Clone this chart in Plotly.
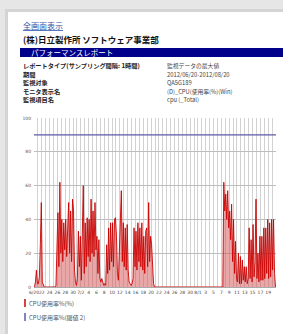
import pandas as pd
import plotly.graph_objects as go

# ---- data (6-hour maxima) ----
june_vals = [0, 3, 10, 2,   2, 6, 25, 50,   3, 1, 0, 0,   0, 0, 0, 0,   0, 0, 0, 0,
             0, 0, 1, 30,   44, 12, 62, 20,   40, 15, 38, 22,   40, 18, 30, 50,
             20, 45, 15, 52,   45, 10, 3, 1]
july_vals = [5, 33, 12, 30,   4, 35, 60, 8,   38, 12, 41, 18,   40, 15, 52, 20,
             45, 18, 50, 22,   30, 8, 28, 5,   3, 5, 2, 1,   2, 1, 25, 8,
             35, 10, 38, 15,   38, 12, 40, 41,   30, 8, 4, 20,   35, 57, 15, 38,
             12, 35, 10, 37,   10, 3, 2, 1,   2, 5, 35, 12,   33, 10, 38, 15,
             35, 12, 38, 10,   30, 8, 33, 35,   12, 50, 15, 30,   25, 10, 2, 0,
             0, 0, 0, 0,   0, 0, 0, 0,   0, 0, 0, 0,   0, 0, 0, 0,
             0, 0, 0, 0,   0, 0, 0, 0,   0, 0, 0, 0,   0, 0, 0, 0,
             0, 0, 0, 0,   0, 0, 0, 0,   0, 0, 0, 0]
aug_vals = [0, 0, 0, 0,   0, 0, 0, 0,   0, 0, 0, 0,   0, 0, 0, 0,   0, 0, 0, 0,   0, 0, 0, 0,
            0, 0, 62, 45,   55, 40, 57, 35,   45, 28, 49, 15,   40, 8, 27, 5,
            3, 20, 2, 18,   2, 16, 4, 12,   3, 12, 2, 5,   35, 5, 28, 3,
            37, 6, 15, 52,   5, 20, 3, 30,   4, 30, 4, 35,   5, 35, 8, 40,
            5, 38, 6, 40,   10, 40, 8, 0]
threshold_vals = [90, 90]
threshold_dates = ["2012-06-20", "2012-08-21"]

tick_labels = ["6/20", "22", "24", "26", "28", "30", "7/2", "4", "6", "8", "10", "12",
               "14", "16", "18", "20", "22", "24", "26", "28", "30", "8/1", "3", "5",
               "7", "9", "11", "13", "15", "17", "19"]
y_ticks = [0, 20, 40, 60, 80, 100]

header_labels = ["レポートタイプ(サンプリング間隔: 1時間)", "期間", "監視対象", "モニタ表示名", "監視項目名"]
header_values = ["監視データの最大値", "2012/06/20-2012/08/20", "QA5G189", "(D)_CPU(使用率(%)(Win)", "cpu (_Total)"]
legend_names = ["CPU使用率%(%)", "CPU使用率%(閾値 2)"]

# ---- build ----
cpu_vals = june_vals + july_vals + aug_vals
cpu_times = pd.date_range("2012-06-20 03:00", periods=len(cpu_vals), freq="6h")
tick_dates = pd.date_range("2012-06-20", periods=len(tick_labels), freq="2D")

W, H = 283, 334
L, R, T, B = 34, 276, 118, 287
PW, PH = R - L, B - T

def px(x):
    return (x - L) / PW

def py(y):
    return (B - y) / PH

FONT = "Noto Sans CJK JP"
RED = "#cc0000"
BLUE = "#5a5aa8"

fig = go.Figure()
fig.add_trace(go.Scatter(
    x=cpu_times, y=cpu_vals, mode="lines", name=legend_names[0],
    line=dict(color=RED, width=0.9), fill="tozeroy",
    fillcolor="rgba(214,80,80,0.5)", showlegend=False))
fig.add_trace(go.Scatter(
    x=pd.to_datetime(threshold_dates), y=threshold_vals, mode="lines",
    name=legend_names[1], line=dict(color=BLUE, width=1.2), showlegend=False))

shapes = []
# page shadow
shapes.append(dict(type="rect", xref="paper", yref="paper", x0=px(0), x1=px(W), y0=py(0), y1=py(12),
                   fillcolor="#e6e6e6", line=dict(width=0), layer="below"))
shapes.append(dict(type="rect", xref="paper", yref="paper", x0=px(0), x1=px(8), y0=py(0), y1=py(H),
                   fillcolor="#e6e6e6", line=dict(width=0), layer="below"))
shapes.append(dict(type="rect", xref="paper", yref="paper", x0=px(5), x1=px(8), y0=py(10), y1=py(H),
                   fillcolor="#d4d4d4", line=dict(width=0), layer="below"))
shapes.append(dict(type="rect", xref="paper", yref="paper", x0=px(5), x1=px(W), y0=py(9), y1=py(12),
                   fillcolor="#d4d4d4", line=dict(width=0), layer="below"))
# banner
shapes.append(dict(type="rect", xref="paper", yref="paper", x0=px(20), x1=px(W + 2), y0=py(57), y1=py(48),
                   fillcolor="#00008b", line=dict(width=0), layer="below"))
# legend swatches
shapes.append(dict(type="line", xref="paper", yref="paper", x0=px(25), x1=px(25), y0=py(299), y1=py(307),
                   line=dict(color=RED, width=1.5)))
shapes.append(dict(type="line", xref="paper", yref="paper", x0=px(25), x1=px(25), y0=py(313), y1=py(321),
                   line=dict(color=BLUE, width=1.5)))

ann = []
def text(x, y, s, size, color="#000", bold=False, anchor="left"):
    if bold:
        s = "<b>" + s + "</b>"
    ann.append(dict(x=px(x), y=py(y), xref="paper", yref="paper", text=s, showarrow=False,
                    xanchor=anchor, yanchor="middle", font=dict(family=FONT, size=size, color=color)))

text(21, 25, "<u>全画面表示</u>", 8, "#3355aa")
text(21, 39, "(株)日立製作所 ソフトウェア事業部", 8.5, "#111", bold=True)
text(29, 52.5, "パフォーマンスレポート", 7.5, "#ffffff")
rows_y = [65.5, 74.1, 82.7, 91.3, 99.9]
for yy, lab, val in zip(rows_y, header_labels, header_values):
    text(21, yy, lab, 6.2, "#222", bold=True)
    text(165, yy, val, 5.8, "#444")
text(27, 303, legend_names[0], 6, "#555")
text(27, 317, legend_names[1], 6, "#555")

fig.update_layout(
    width=W, height=H, margin=dict(l=L, r=W - R, t=T, b=H - B, pad=0),
    paper_bgcolor="#ffffff", plot_bgcolor="rgba(0,0,0,0)",
    shapes=shapes, annotations=ann, showlegend=False,
)
fig.update_xaxes(
    type="date", range=["2012-06-20", "2012-08-21"],
    tickmode="array", tickvals=tick_dates, ticktext=tick_labels, tickangle=0,
    tickfont=dict(family="DejaVu Sans", size=4.5, color="#444"),
    showgrid=True, gridcolor="#d2d2d2", gridwidth=1, ticks="", ticklabelstandoff=1,
    minor=dict(tickmode="linear", tick0="2012-06-20", dtick=86400000, showgrid=True,
               gridcolor="#d2d2d2", gridwidth=1),
    showline=True, linecolor="#aaaaaa", linewidth=1, mirror=False, zeroline=False,
)
fig.update_yaxes(
    range=[0, 100], tickmode="array", tickvals=y_ticks, ticktext=[str(v) for v in y_ticks],
    tickfont=dict(family="DejaVu Sans", size=4.5, color="#555"),
    showgrid=True, gridcolor="#bdbdbd", gridwidth=1, ticks="", ticklabelstandoff=2,
    zeroline=False, showline=False,
)
fig.write_html("out.html", config={"displayModeBar": False},
               post_script="document.body.style.margin='0px';document.body.style.overflow='hidden';")
